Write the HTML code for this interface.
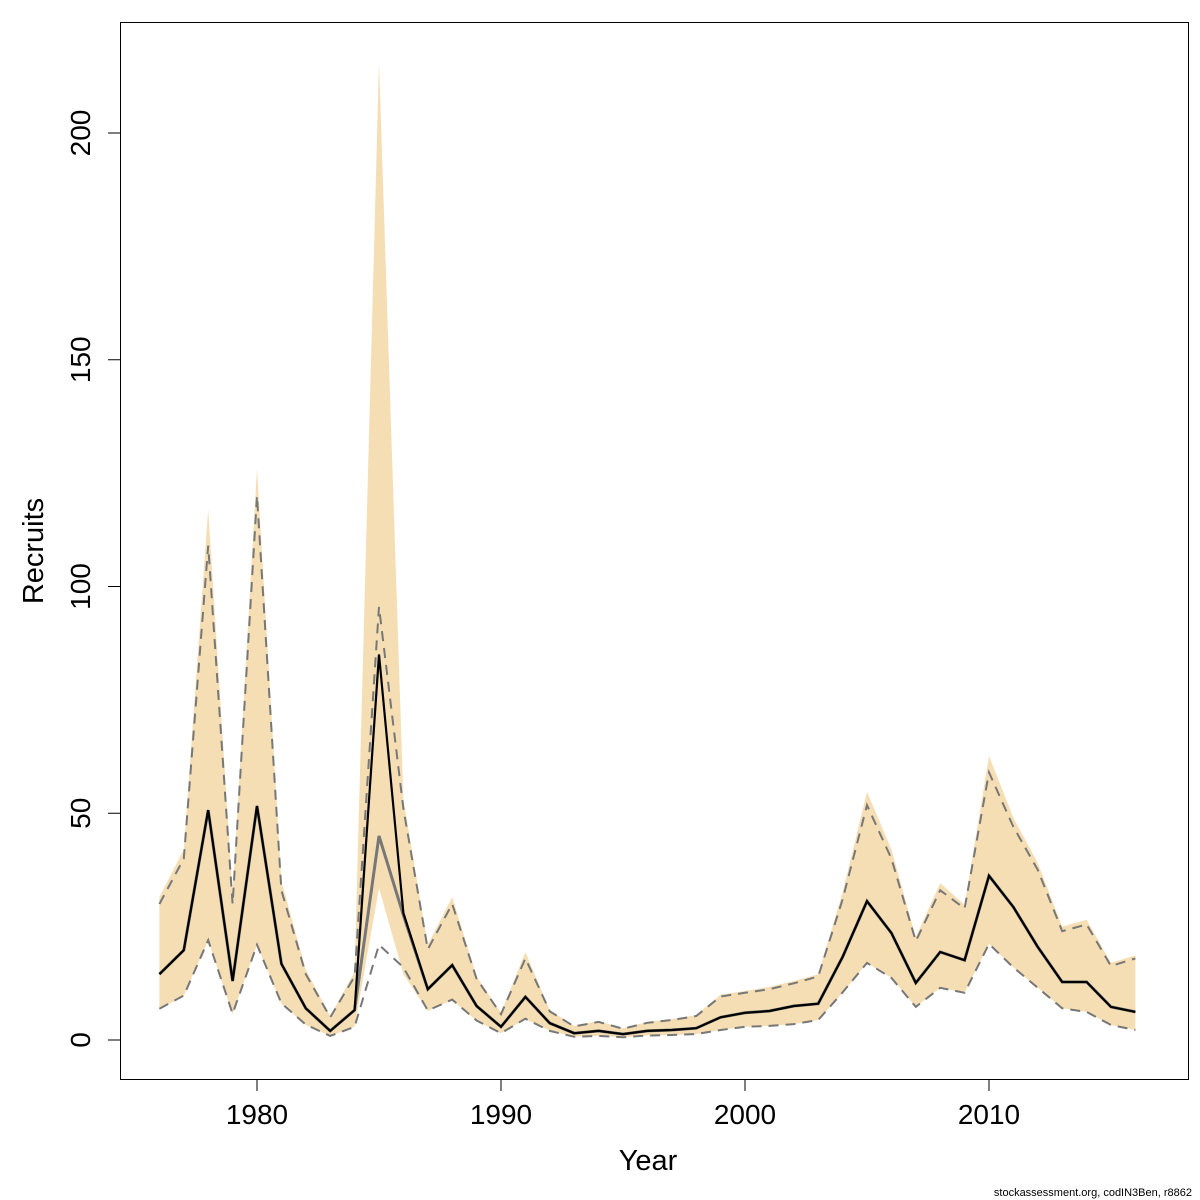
<!DOCTYPE html>
<html><head><meta charset="utf-8"><style>
body{margin:0;background:#fff}
svg{display:block;font-family:"Liberation Sans","DejaVu Sans",sans-serif}
</style></head><body>
<svg id="chart" width="1200" height="1200" viewBox="0 0 1200 1200">
<rect x="120.5" y="22.5" width="1068" height="1057" fill="none" stroke="#000" stroke-width="1"/>
<g id="marks"></g>
<g id="axes"></g>
<text x="648" y="1170" font-size="29" text-anchor="middle">Year</text>
<text transform="translate(43,551) rotate(-90)" font-size="29" text-anchor="middle">Recruits</text>
<text x="1192" y="1196" font-size="11" text-anchor="end">stockassessment.org, codIN3Ben, r8862</text>
</svg>
<script>
const years=[1976,1977,1978,1979,1980,1981,1982,1983,1984,1985,1986,1987,1988,1989,1990,1991,1992,1993,1994,1995,1996,1997,1998,1999,2000,2001,2002,2003,2004,2005,2006,2007,2008,2009,2010,2011,2012,2013,2014,2015,2016];
const recruits=[14.5,19.8,50.7,13,51.6,16.8,7,2,6.6,85,28,11.2,16.5,7.5,2.9,9.5,3.7,1.5,2,1.3,2,2.2,2.6,5,6,6.4,7.5,8,18.3,30.6,23.6,12.6,19.4,17.6,36.2,29.3,20.5,12.8,12.8,7.3,6.2];
const recruitsAlt=[14.5,19.8,50.7,13,51.6,16.8,7,2,6.6,45,27.5,11.2,16.5,7.5,2.9,9.5,3.7,1.5,2,1.3,2,2.2,2.6,5,6,6.4,7.5,8,18.3,30.6,23.6,12.6,19.4,17.6,36.2,29.3,20.5,12.8,12.8,7.3,6.2];
const bandUpper=[31.5,42,117,32,126,35,15.5,5.3,15,215.6,53,21,31.5,14,6,19.4,6.6,3.1,4.2,2.6,4,4.6,5.5,10,10.8,11.7,13,14.5,32.5,54.7,42,22.7,34.6,29.8,62.6,49,39,25,26.5,17,18.7];
const bandLower=[6.8,9.7,22,5.7,21,8,3.3,0.9,2.9,33.5,14.5,6.4,8.8,4.2,1.5,4.6,2,0.7,0.9,0.6,1,1.1,1.3,2.2,2.9,3.1,3.5,4.4,10.4,17,13.7,7.3,11.5,10.4,21.2,16,11.5,7,6.2,3.3,2.2];
const dashUpper=[30,40,109,30,120,33,14.5,5,14,95.5,51,20,30,13.5,5.7,18,6.3,3,4,2.5,3.8,4.4,5.3,9.6,10.4,11.2,12.5,14,31,51.8,40,21.8,33,29,59,47,37.5,24,25.5,16.3,18];
const dashLower=[6.9,9.8,22,5.8,21,8.1,3.4,0.9,2.9,21,16,6.5,8.9,4.3,1.5,4.7,2,0.7,0.9,0.6,1,1.1,1.3,2.2,2.9,3.1,3.5,4.4,10.5,17,13.7,7.3,11.5,10.4,21.2,16,11.5,7,6.2,3.3,2.2];
const xTicks=[1980,1990,2000,2010];
const yTicks=[0,50,100,150,200];
const X=v=>257+(v-1980)*24.4;
const Y=v=>1040-v*4.535;
const NS="http://www.w3.org/2000/svg";
const marks=document.getElementById('marks'), axes=document.getElementById('axes');
function mk(tag,attrs,parent){const e=document.createElementNS(NS,tag);for(const k in attrs)e.setAttribute(k,attrs[k]);parent.appendChild(e);return e;}
const pts=a=>a.map((v,i)=>X(years[i]).toFixed(1)+','+Y(v).toFixed(1)).join(' ');
const band=mk('polygon',{points:pts(bandUpper)+' '+bandLower.map((v,i)=>[X(years[i]),Y(v)]).reverse().map(p=>p[0].toFixed(1)+','+p[1].toFixed(1)).join(' '),fill:'#f5deb3',stroke:'none'},marks);


const du=mk('polyline',{points:pts(dashUpper),fill:'none',stroke:'#777','stroke-width':2,'stroke-dasharray':'10,7'},marks);


const dl=mk('polyline',{points:pts(dashLower),fill:'none',stroke:'#777','stroke-width':2,'stroke-dasharray':'10,7'},marks);


const ga=mk('polyline',{points:pts(recruitsAlt),fill:'none',stroke:'#777','stroke-width':3},marks);


const ml=mk('polyline',{points:pts(recruits),fill:'none',stroke:'#000','stroke-width':2.2},marks);


xTicks.forEach(t=>{
  const l=mk('line',{x1:X(t),x2:X(t),y1:1079,y2:1091,stroke:'#000'},axes);
  
  
  const tx=mk('text',{x:X(t),y:1124,'font-size':28,'text-anchor':'middle'},axes);
  
  
  tx.textContent=t;
});
yTicks.forEach(t=>{
  const l=mk('line',{x1:108,x2:120,y1:Y(t),y2:Y(t),stroke:'#000'},axes);
  
  
  const tx=mk('text',{transform:'translate(90,'+Y(t)+') rotate(-90)','font-size':28,'text-anchor':'middle'},axes);
  
  
  tx.textContent=t;
});
</script>
</body></html>
